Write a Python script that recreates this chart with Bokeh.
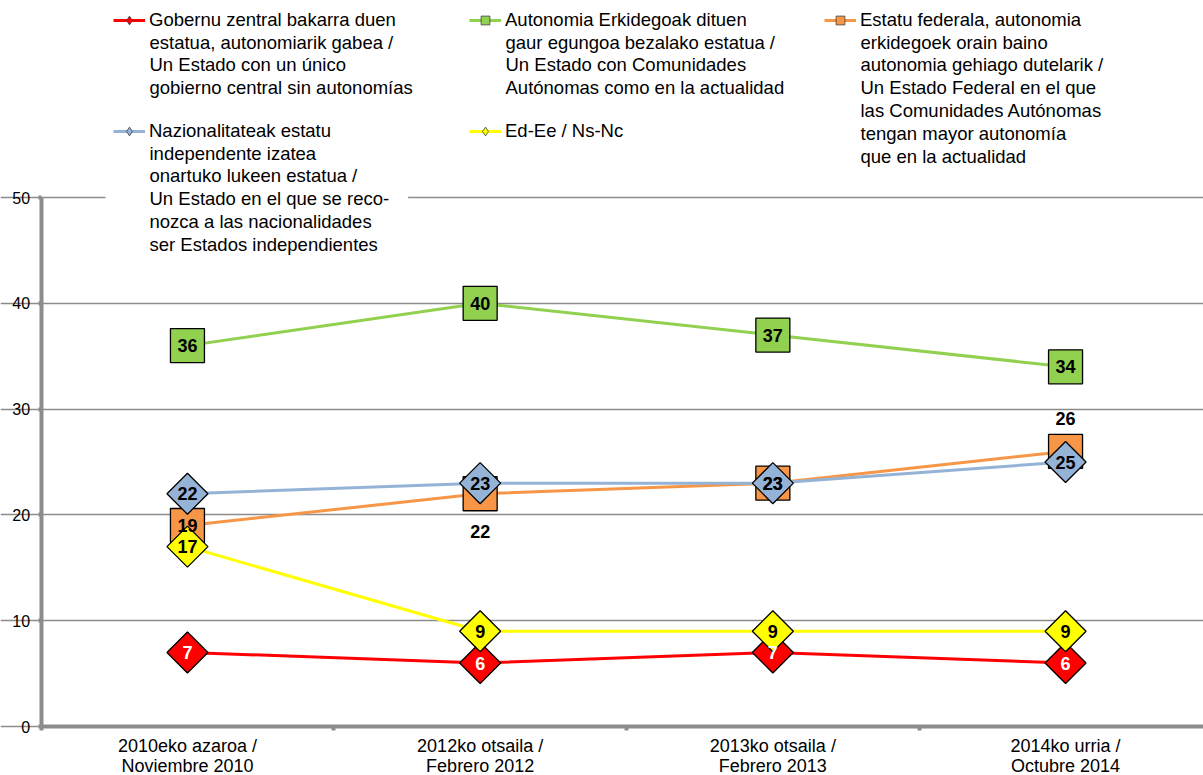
import numpy as np
from bokeh.plotting import figure
from bokeh.models import (Range1d, FixedTicker, Legend, LegendItem, ColumnDataSource,
                          Label)
from bokeh.core.properties import value
from bokeh.embed import file_html
from bokeh.resources import INLINE

# ---------------- data ----------------
categories = ["2010eko azaroa /\nNoviembre 2010",
              "2012ko otsaila /\nFebrero 2012",
              "2013ko otsaila /\nFebrero 2013",
              "2014ko urria /\nOctubre 2014"]
central = [7, 6, 7, 6]
autonomias = [36, 40, 37, 34]
federal = [19, 22, 23, 26]
independientes = [22, 23, 23, 25]
nsnc = [17, 9, 9, 9]
y_ticks = [0, 10, 20, 30, 40, 50]

names = [
    "Gobernu zentral bakarra duen\nestatua, autonomiarik gabea /\nUn Estado con un único\ngobierno central sin autonomías",
    "Autonomia Erkidegoak dituen\ngaur egungoa bezalako estatua /\nUn Estado con Comunidades\nAutónomas como en la actualidad",
    "Estatu federala, autonomia\nerkidegoek orain baino\nautonomia gehiago dutelarik /\nUn Estado Federal en el que\nlas Comunidades Autónomas\ntengan mayor autonomía\nque en la actualidad",
    "Nazionalitateak estatu\nindependente izatea\nonartuko lukeen estatua /\nUn Estado en el que se reco-\nnozca a las nacionalidades\nser Estados independientes",
    "Ed-Ee / Ns-Nc",
]

# ---------------- styles ----------------
FONT = "Liberation Sans"
W, H = 1203, 775
colors = ["#FF0000", "#92D050", "#F79646", "#95B3D7", "#FFFF00"]
markers = ["diamond", "square", "square", "diamond", "diamond"]
label_colors = ["white", "black", "black", "black", "black"]
label_offsets = [[0, 0, 0, 0], [0, 0, 0, 0], [0, 38, 0, -33], [0, 0, 0, 0], [0, 0, 0, 0]]
# legend entries: glyph left edge and first-line centre (px from top-left)
legend_left = [113, 469, 824, 113, 469]
legend_mid = [20, 20, 20, 131, 131]
LINE_PX = 22.2
LEG_FS = "18.5px"
GAP_PAD = dict(left=44, right=19, top=2, bottom=2)   # white box behind the blue entry

# pixel geometry of the plotting area
X0_PX, X_STEP = 40.6, 292.7        # x=-0.5 position, px per category
Y0_PX, Y50_PX = 726.0, 197.0       # y=0 and y=50 positions (from top)
py = (Y0_PX - Y50_PX) / 50.0
x_start = -0.5 - X0_PX / X_STEP
x_end = -0.5 + (W - X0_PX) / X_STEP
y_end = 50 + Y50_PX / py
y_start = -(H - Y0_PX) / py

series = [central, autonomias, federal, independientes, nsnc]
x = list(range(len(categories)))

p = figure(width=W, height=H, output_backend="svg", toolbar_location=None,
           x_range=Range1d(x_start, x_end), y_range=Range1d(y_start, y_end),
           min_border=0)
p.outline_line_color = None
p.background_fill_color = "white"
p.border_fill_color = "white"

# axes
p.xgrid.visible = False
p.ygrid.grid_line_color = "#8C8C8C"
p.ygrid.grid_line_width = 1.5
p.yaxis.fixed_location = -0.5
p.yaxis.bounds = (0, 50)
p.yaxis.ticker = FixedTicker(ticks=y_ticks)
p.yaxis.axis_line_color = "#8C8C8C"
p.yaxis.axis_line_width = 4
p.yaxis.major_tick_line_color = "#8C8C8C"
p.yaxis.major_tick_line_width = 4
p.yaxis.major_tick_out = 3
p.yaxis.major_tick_in = 0
p.yaxis.minor_tick_line_color = None
p.yaxis.major_label_text_font = FONT
p.yaxis.major_label_text_font_size = "16px"
p.yaxis.major_label_text_color = "black"
p.yaxis.major_label_standoff = 8

p.xaxis.fixed_location = 0
p.xaxis.bounds = (-0.5, 3.5)
p.xaxis.ticker = FixedTicker(ticks=x, minor_ticks=[-0.5, 0.5, 1.5, 2.5, 3.5])
p.xaxis.major_label_overrides = {i: c for i, c in zip(x, categories)}
p.xaxis.axis_line_color = "#8C8C8C"
p.xaxis.axis_line_width = 4
p.xaxis.major_tick_line_color = None
p.xaxis.major_tick_out = 0
p.xaxis.major_tick_in = 0
p.xaxis.minor_tick_line_color = "#8C8C8C"
p.xaxis.minor_tick_line_width = 4
p.xaxis.minor_tick_out = 4
p.xaxis.minor_tick_in = 0
p.xaxis.major_label_text_font = FONT
p.xaxis.major_label_text_font_size = "18px"
p.xaxis.major_label_text_color = "black"
p.xaxis.major_label_text_line_height = 1.0
p.xaxis.major_label_standoff = 5

line_renderers, key_renderers = [], []
for vals, col, mk in zip(series, colors, markers):
    src = ColumnDataSource(dict(x=x, y=vals))
    lr = p.line("x", "y", source=src, line_color=col, line_width=3)
    if mk == "square":
        p.scatter("x", "y", source=src, marker="square", size=34, angle=0,
                  fill_color=col, line_color="black", line_width=1.3)
    else:
        p.scatter("x", "y", source=src, marker="square", size=29, angle=np.pi / 4,
                  fill_color=col, line_color="black", line_width=1.3)
    # legend-only key (zero size in the plot; the legend draws its own size)
    key = p.scatter("x", "y", source=src, marker=mk, size=0, fill_color=col,
                    line_color="#404040", line_width=0.8)
    line_renderers.append(lr)
    key_renderers.append(key)

for vals, lc, offs in zip(series, label_colors, label_offsets):
    src = ColumnDataSource(dict(x=x, y=vals, t=[str(v) for v in vals], off=offs))
    p.text("x", "y", text="t", source=src, y_offset="off", text_align="center",
           text_baseline="middle", text_color=lc, text_font=value(FONT),
           text_font_size="18px", text_font_style="bold")

# legend: one entry per series; first line carries the glyph, the rest is a label
for lr, key, col, name, lx, my in zip(line_renderers, key_renderers, colors, names,
                                       legend_left, legend_mid):
    lines = name.split("\n")
    lg = Legend(items=[LegendItem(label=lines[0], renderers=[lr, key])],
                location=(lx, H - (my + LINE_PX / 2)),
                padding=0, margin=0, spacing=0, glyph_width=32, glyph_height=22,
                label_standoff=4, label_text_font=FONT, label_text_font_size=LEG_FS,
                label_text_color="black", border_line_color=None,
                background_fill_color="white", background_fill_alpha=1.0)
    p.add_layout(lg, "center")
    if len(lines) > 1:
        blue = (col == "#95B3D7")
        pad = GAP_PAD if blue else dict(left=0, right=0, top=0, bottom=0)
        lab = Label(x=lx + 36 - pad["left"], y=H - (my + LINE_PX / 2) + pad["top"],
                    x_units="screen", y_units="screen", text="\n".join(lines[1:]),
                    text_align="left", text_baseline="top", text_font=FONT,
                    text_font_size=LEG_FS, text_line_height=1.09, text_color="black",
                    background_fill_color="white" if blue else None, padding=pad)
        p.add_layout(lab)

open("out.html", "w").write(file_html(p, INLINE))
